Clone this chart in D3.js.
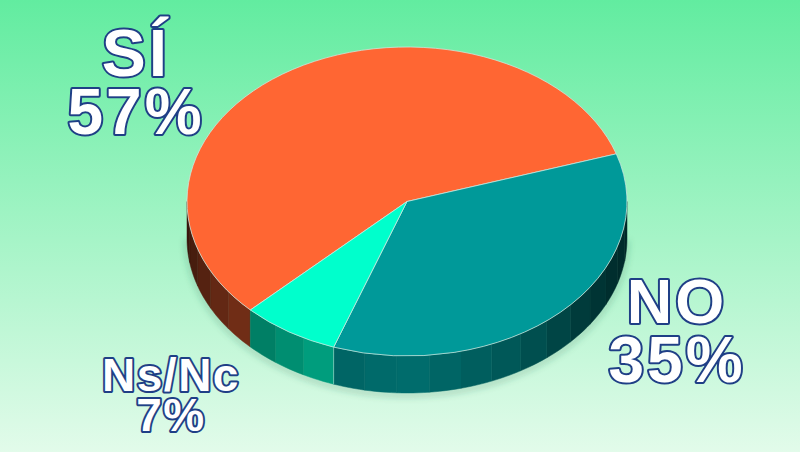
<!DOCTYPE html>
<html>
<head>
<meta charset="utf-8">
<script src="https://d3js.org/d3.v7.min.js"></script>
<style>
html, body { margin: 0; padding: 0; }
svg { display: block; }
</style>
</head>
<body>
<svg width="800" height="452"></svg>
<script>
var categories = ['SÍ', 'NO', 'Ns/Nc']
var values = [57.4, 35.4, 7.2]
var percents = ['57%', '35%', '7%']
var topColors = ['#ff6633', '#009999', '#00ffcc']

var width = 800, height = 452
var cx = 407, cy = 201.5, rx = 220, ry = 154.5, depth = 37
var rad = Math.PI / 180

var svg = d3.select('svg')
var defs = svg.append('defs')

var bg = defs.append('linearGradient').attr('id', 'bg')
    .attr('x1', 0).attr('y1', 0).attr('x2', 0).attr('y2', 1)
bg.append('stop').attr('offset', 0).attr('stop-color', '#62eca0')
bg.append('stop').attr('offset', 1).attr('stop-color', '#e2fbea')

var blur = defs.append('filter').attr('id', 'soft')
    .attr('x', '-10%').attr('y', '-10%').attr('width', '120%').attr('height', '120%')
blur.append('feGaussianBlur').attr('stdDeviation', 3)

svg.append('rect').attr('width', width).attr('height', height).attr('fill', 'url(#bg)')

// the orange slice starts at the lower left and runs clockwise over the top
var start = 225.4 * rad
var pie = d3.pie().sort(null).startAngle(start).endAngle(start + Math.PI * 2)
var arcs = pie(values)

var xs = d3.scaleLinear().domain([-1, 1]).range([cx - rx, cx + rx])
var ys = d3.scaleLinear().domain([-1, 1]).range([cy - ry, cy + ry])

function ex(a) { return xs(Math.sin(a)) }
function ey(a) { return ys(-Math.cos(a)) }

// shade of the side wall, brightest near the front
var shade = d3.scaleLinear()
    .domain([90, 112, 130, 149, 181, 200, 225, 270].map(function (d) { return d * rad }))
    .range([0.26, 0.3, 0.4, 0.55, 0.72, 0.64, 0.47, 0.2])
    .clamp(true)

var step = Math.PI / 22
var wall = svg.append('g')

// soft shadow under the wall
var lowerEdge = d3.range(Math.PI / 2, Math.PI * 1.5 + 0.01, 0.05)
var shadowLine = d3.line().x(function (a) { return ex(a) }).y(function (a) { return ey(a) + depth + 2 })
wall.append('path')
    .attr('d', shadowLine(lowerEdge))
    .attr('fill', 'none').attr('stroke', '#2a6a50').attr('stroke-opacity', 0.3)
    .attr('stroke-width', 4).attr('filter', 'url(#soft)')

arcs.forEach(function (d, i) {
  var a0 = d.startAngle, a1 = d.endAngle
  if (a0 >= Math.PI * 2) { a0 -= Math.PI * 2; a1 -= Math.PI * 2 }
  a0 = Math.max(a0, Math.PI / 2)
  a1 = Math.min(a1, Math.PI * 1.5)
  if (a1 <= a0) return
  var n = Math.max(1, Math.round((a1 - a0) / step))
  d3.range(n).forEach(function (k) {
    var s = a0 + (a1 - a0) * k / n
    var e = a0 + (a1 - a0) * (k + 1) / n
    var pts = d3.range(0, 7).map(function (j) { return s + (e - s) * j / 6 })
    var top = pts.map(function (a) { return [ex(a), ey(a)] })
    var bottom = pts.slice().reverse().map(function (a) { return [ex(a), ey(a) + depth] })
    var col = d3.interpolateRgb('#000', topColors[i])(shade((s + e) / 2))
    wall.append('path')
        .attr('d', d3.line()(top.concat(bottom)) + 'Z')
        .attr('fill', col)
        .attr('stroke', col)
        .attr('stroke-width', 0.5)
  })
})

// thin light lines where two slices meet on the wall
arcs.slice(1).forEach(function (d) {
  var a = d.startAngle % (Math.PI * 2)
  if (a < Math.PI / 2 || a > Math.PI * 1.5) return
  wall.append('line')
      .attr('x1', ex(a)).attr('y1', ey(a))
      .attr('x2', ex(a)).attr('y2', ey(a) + depth)
      .attr('stroke', '#fff').attr('stroke-opacity', 0.4).attr('stroke-width', 1)
})

// top face, a circle arc squashed to the ellipse
var arc = d3.arc().innerRadius(0).outerRadius(rx)
var face = svg.append('g')
    .attr('transform', 'translate(' + cx + ',' + cy + ') scale(1,' + (ry / rx) + ')')
face.selectAll('path')
    .data(arcs)
    .enter()
    .append('path')
    .attr('d', arc)
    .attr('fill', function (d, i) { return topColors[i] })
    .attr('stroke', '#cfe8e0')
    .attr('stroke-opacity', 0.75)
    .attr('stroke-width', 1)
    .attr('vector-effect', 'non-scaling-stroke')

var labelData = [
  { lines: [categories[0], percents[0]], x: 136, y: [76, 134], size: [66, 64], sp: [3, 3] },
  { lines: [categories[1], percents[1]], x: 677, y: [323, 382], size: [63, 64], sp: [3, 3] },
  { lines: [categories[2], percents[2]], x: 171, y: [391, 431], size: [46, 46], sp: [1.5, 1.5] }
]

labelData.forEach(function (l) {
  l.lines.forEach(function (t, i) {
    svg.append('text')
        .attr('x', l.x).attr('y', l.y[i])
        .attr('text-anchor', 'middle')
        .attr('font-family', '"Liberation Sans", Arial, sans-serif')
        .attr('font-weight', 700)
        .attr('font-size', l.size[i])
        .attr('letter-spacing', l.sp[i])
        .attr('fill', '#fff')
        .attr('stroke', '#1f3f86')
        .attr('stroke-width', 4)
        .attr('stroke-linejoin', 'round')
        .attr('paint-order', 'stroke')
        .text(t)
  })
})
</script>
</body>
</html>
